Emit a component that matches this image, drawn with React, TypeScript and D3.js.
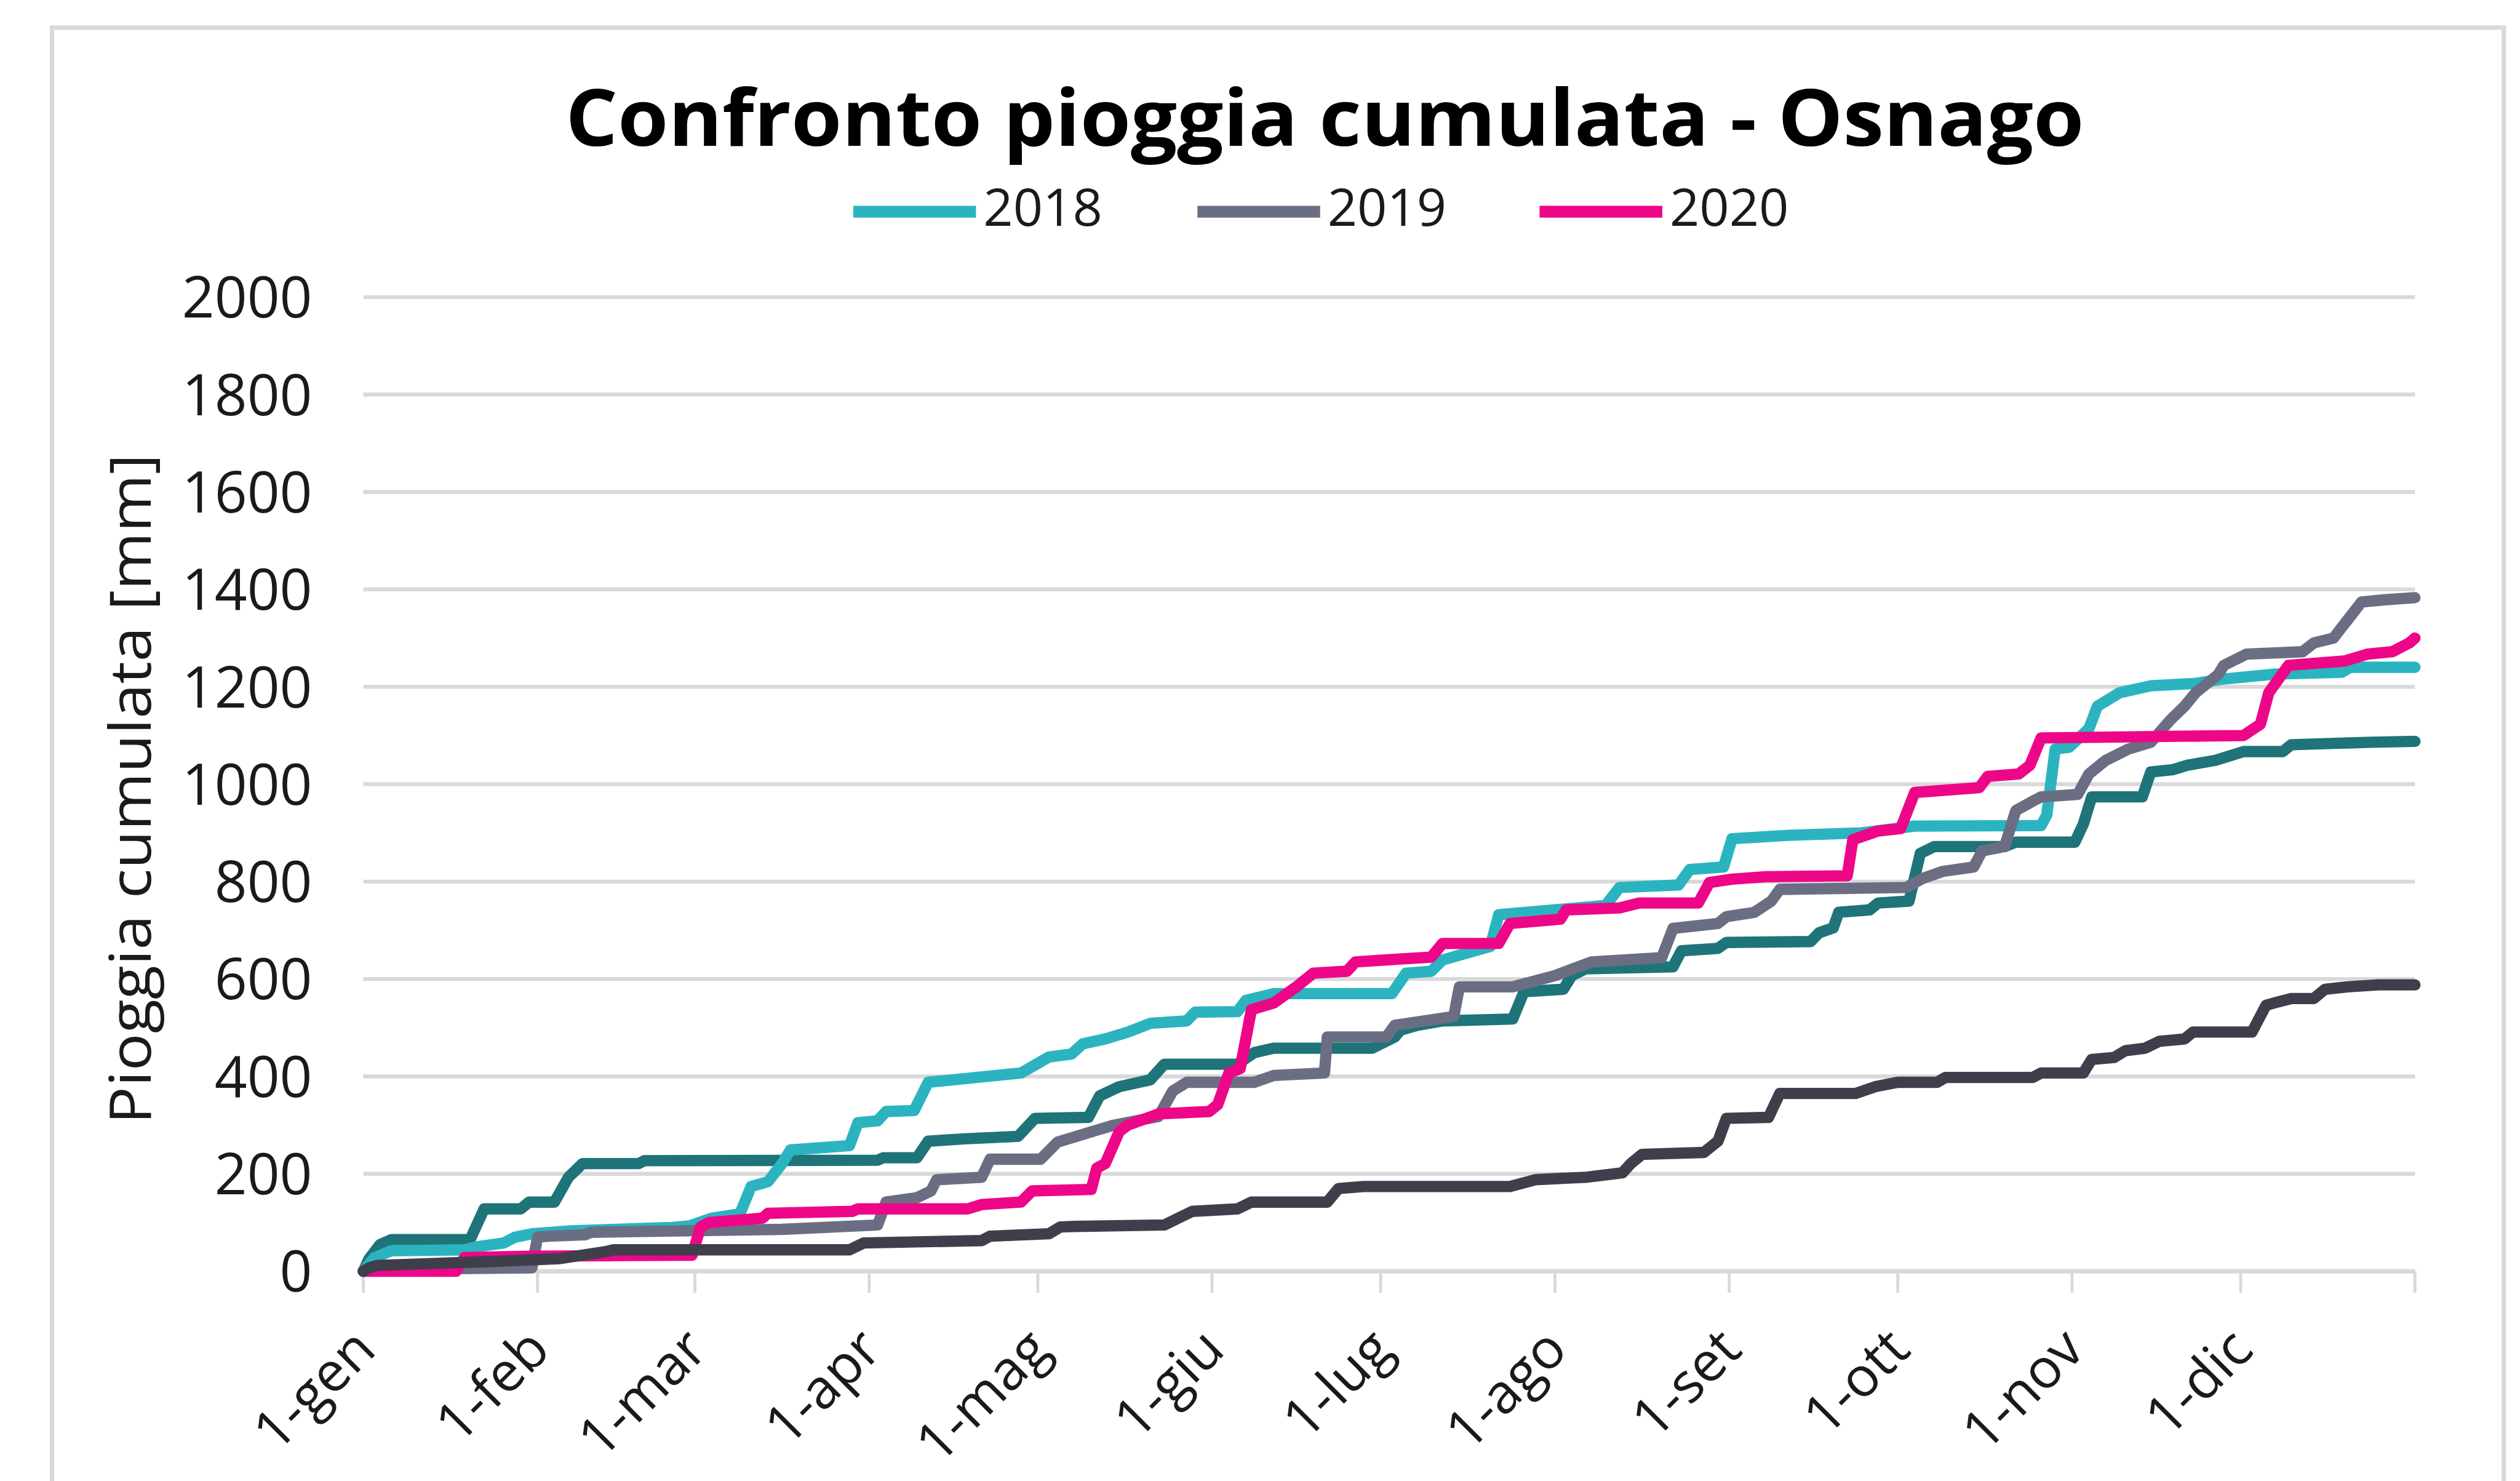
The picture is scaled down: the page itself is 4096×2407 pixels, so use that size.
import * as d3 from "d3";

// categorie asse x (giorno dell'anno di inizio mese) e relative etichette
const inizioMese = [0, 31, 59, 90, 120, 151, 181, 212, 243, 273, 304, 334, 365];
const etichetteMesi = ["1-gen", "1-feb", "1-mar", "1-apr", "1-mag", "1-giu", "1-lug", "1-ago", "1-set", "1-ott", "1-nov", "1-dic"];
const tickY = [0, 200, 400, 600, 800, 1000, 1200, 1400, 1600, 1800, 2000];

// [giorno, pioggia cumulata mm]
const serie2018: [number, number][] = [
  [0, 0], [2, 28], [5, 42], [18, 44], [20, 50], [25, 58], [27, 70], [30, 77], [37, 83], [55, 90], [58, 93],
  [62, 109], [67, 118], [69, 174], [72, 184], [74.5, 221], [76, 249], [86.5, 258], [88, 305], [91.5, 309],
  [93, 328], [98, 330], [100.5, 388], [117, 407], [122, 440], [126, 446], [128, 467], [132, 477], [136, 491],
  [140, 509], [146.5, 514], [148, 532], [155.5, 533], [157, 556], [162, 570], [183, 570], [185.5, 612],
  [190, 616], [192, 639], [200.5, 667], [202, 732], [212, 742], [221, 751], [223.5, 788], [234, 793],
  [236, 825], [242, 830], [243.5, 888], [253.5, 895], [266.5, 900], [276, 914], [298.5, 915], [299.5, 937],
  [301, 1072], [303.5, 1076], [307, 1114], [308.5, 1160], [312.5, 1188], [318, 1202], [326, 1207],
  [331, 1216], [340, 1226], [352, 1230], [353.5, 1240], [365, 1240],
];

const serie2019: [number, number][] = [
  [0, 0], [5, 4], [30, 7], [31, 70], [33, 72], [39.5, 75], [40.5, 80], [74.5, 86], [91.5, 95], [93, 142],
  [98.5, 151], [101, 165], [102, 188], [110, 193], [111.5, 230], [120.5, 230], [123.5, 265], [128, 281],
  [133.5, 300], [141.5, 318], [144, 370], [146.5, 388], [158.5, 388], [162, 402], [171, 407], [171.5, 481],
  [182, 481], [183.5, 505], [194, 523], [195, 584], [204.5, 584], [212, 607], [218.5, 635], [231, 644],
  [233, 704], [241, 714], [242.5, 728], [247.5, 737], [250.5, 760], [252, 784], [274.5, 788], [277.5, 807],
  [281, 821], [286.5, 830], [288, 863], [292, 872], [294, 946], [297, 965], [298.5, 974], [305, 979],
  [307, 1021], [310, 1049], [314, 1072], [318, 1086], [321.5, 1132], [324, 1160], [326, 1188], [330, 1225],
  [331, 1244], [335, 1267], [345, 1272], [347, 1290], [350.5, 1300], [353, 1337], [355.5, 1374],
  [360, 1379], [365, 1383],
];

const serie2020: [number, number][] = [
  [0, 0], [16.5, 0], [18, 28], [30, 31], [58.5, 33], [60, 91], [61.5, 100], [71, 109], [72, 119], [87, 123],
  [88, 128], [107.5, 128], [110, 137], [117, 142], [119, 165], [129.5, 168], [130.5, 212], [132, 221],
  [134.5, 287], [136, 300], [141.5, 323], [150.5, 328], [152, 342], [154, 407], [156, 416], [158, 537],
  [162, 551], [166, 584], [169, 612], [175, 616], [176.5, 635], [183, 640], [190, 645], [192, 673],
  [202, 673], [204, 714], [213, 723], [214, 742], [223.5, 746], [227, 756], [237.5, 756], [239.5, 798],
  [243.5, 805], [249.5, 810], [264, 812], [265, 886], [269.5, 904], [273.5, 909], [276, 983], [287.5, 993],
  [289, 1016], [294.5, 1021], [296.5, 1039], [298.5, 1095], [334.5, 1100], [337.5, 1123], [339, 1188],
  [342.5, 1244], [352.5, 1253], [356.5, 1267], [361, 1272], [364, 1290], [365, 1300],
];

// serie senza voce in legenda
const serieVerde: [number, number][] = [
  [0, 0], [1, 25], [3, 55], [5, 65], [19, 65], [21.5, 128], [28, 128], [29.5, 142], [34, 142], [36.5, 193],
  [39, 221], [49, 221], [50, 227], [91.5, 228], [92.5, 233], [98.5, 233], [100.5, 267], [107, 272],
  [116.5, 277], [119.5, 314], [129, 316], [131, 360], [134.5, 379], [140, 393], [142.5, 425], [155.5, 425],
  [158.5, 449], [162, 458], [179.5, 458], [183.5, 481], [184.5, 495], [187.5, 505], [192, 514], [204.5, 518],
  [206.5, 574], [213.5, 579], [215, 607], [217.5, 621], [233, 625], [234.5, 658], [241, 663], [242.5, 675],
  [257.5, 677], [259, 695], [261.5, 705], [262.5, 737], [268, 742], [269.5, 756], [275, 760], [277, 858],
  [279.5, 872], [292, 872], [294, 881], [304.5, 881], [306, 918], [307.5, 974], [316.5, 974], [318, 1025],
  [322, 1030], [324.5, 1039], [329.5, 1049], [334.5, 1067], [341.5, 1067], [343, 1081], [357, 1086],
  [365, 1088],
];

const serieScura: [number, number][] = [
  [0, 0], [1, 7], [2.5, 12], [25, 21], [35, 26], [43, 40], [44.5, 44], [86.5, 44], [89, 58], [110, 63],
  [111.5, 72], [122, 77], [124, 91], [126.5, 92], [142.5, 95], [145, 109], [147.5, 123], [155.5, 128],
  [158, 142], [171.5, 142], [173.5, 170], [178, 174], [204, 174], [208.5, 188], [217.5, 193], [224, 202],
  [225.5, 221], [227.5, 240], [238.5, 244], [241, 267], [242.5, 314], [250, 316], [252, 365], [265.5, 365],
  [269, 379], [273, 388], [280, 388], [281.5, 398], [297, 398], [298.5, 407], [306, 407], [307.5, 435],
  [311.5, 439], [313.5, 453], [317, 458], [319.5, 472], [324, 477], [325.5, 491], [336, 491], [338.5, 546],
  [340, 551], [343, 560], [347, 560], [349, 579], [353, 584], [358.5, 588], [365, 588],
];

const serie = [
  { nome: "", dati: serieVerde, colore: "#1e7479" },
  { nome: "2018", dati: serie2018, colore: "#2bb4c0" },
  { nome: "2019", dati: serie2019, colore: "#6b6e83" },
  { nome: "2020", dati: serie2020, colore: "#ee0689" },
  { nome: "", dati: serieScura, colore: "#3f3f4c" },
];

const FONT = "'Open Sans', 'DejaVu Sans', sans-serif";
const GRIGIO = "#d9d9d9";

export default function App() {
  const x = d3.scaleLinear().domain([0, 365]).range([740, 4919]);
  const y = d3.scaleLinear().domain([0, 2000]).range([2589, 605]);
  const linea = d3
    .line<[number, number]>()
    .x((d) => x(d[0]))
    .y((d) => y(d[1]));

  const legenda = [
    { nome: "2018", x0: 1738, colore: "#2bb4c0" },
    { nome: "2019", x0: 2439, colore: "#6b6e83" },
    { nome: "2020", x0: 3136, colore: "#ee0689" },
  ];

  return (
    <svg
      width={4096}
      height={2407}
      viewBox="0 0 5133 3016"
      style={{ position: "absolute", left: 0, top: 0, display: "block", background: "#fff" }}
    >
      <rect x={0} y={0} width={5133} height={3016} fill="#fff" />
      {/* cornice */}
      <path d="M106,3030 V56 H5100 V3030" fill="none" stroke={GRIGIO} strokeWidth={9} />

      {/* titolo */}
      <text
        x={1152}
        y={297}
        fontFamily={FONT}
        fontWeight={700}
        fontSize={160}
        textLength={3093}
        lengthAdjust="spacingAndGlyphs"
        fill="#000"
      >
        Confronto pioggia cumulata - Osnago
      </text>

      {/* legenda */}
      {legenda.map((l) => (
        <g key={l.nome}>
          <line x1={l.x0} x2={l.x0 + 250} y1={431} y2={431} stroke={l.colore} strokeWidth={24} />
          <text x={l.x0 + 265} y={460} fontFamily={FONT} fontSize={106} fill="#1a1a1a">
            {l.nome}
          </text>
        </g>
      ))}

      {/* griglia e asse y */}
      {tickY.map((t) => (
        <g key={t}>
          {t > 0 && (
            <line x1={x(0)} x2={x(365)} y1={y(t)} y2={y(t)} stroke={GRIGIO} strokeWidth={8} />
          )}
          <text
            x={636}
            y={y(t)}
            dy="0.36em"
            textAnchor="end"
            fontFamily={FONT}
            fontSize={116}
            fill="#1a1a1a"
          >
            {t}
          </text>
        </g>
      ))}
      <text
        transform="translate(307,1607) rotate(-90)"
        textAnchor="middle"
        fontFamily={FONT}
        fontSize={116}
        textLength={1365}
        lengthAdjust="spacingAndGlyphs"
        fill="#1a1a1a"
      >
        Pioggia cumulata [mm]
      </text>

      {/* asse x */}
      <line x1={x(0)} x2={x(365)} y1={y(0)} y2={y(0)} stroke={GRIGIO} strokeWidth={9} />
      {inizioMese.map((d) => (
        <line key={d} x1={x(d)} x2={x(d)} y1={y(0)} y2={y(0) + 44} stroke={GRIGIO} strokeWidth={6} />
      ))}
      {etichetteMesi.map((m, i) => (
        <text
          key={m}
          transform={`translate(${x(inizioMese[i]) + 30},${y(0) + 165}) rotate(-45)`}
          textAnchor="end"
          fontFamily={FONT}
          fontSize={112}
          fill="#1a1a1a"
        >
          {m}
        </text>
      ))}

      {/* serie */}
      {serie.map((s, i) => (
        <path
          key={i}
          d={linea(s.dati) ?? ""}
          fill="none"
          stroke={s.colore}
          strokeWidth={23}
          strokeLinejoin="round"
          strokeLinecap="round"
        />
      ))}
    </svg>
  );
}
